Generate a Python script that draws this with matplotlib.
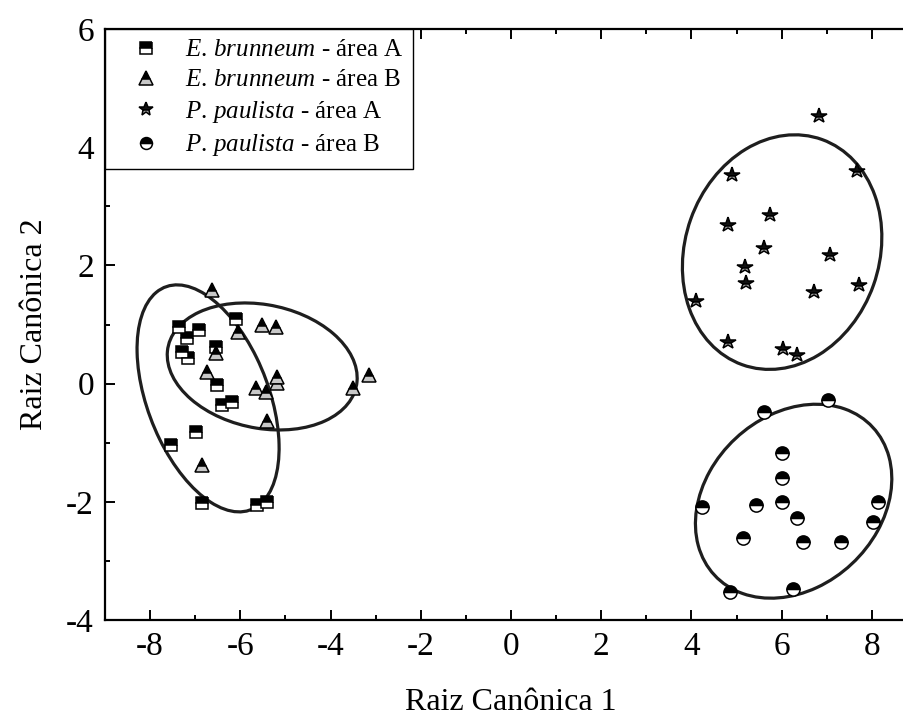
import matplotlib
matplotlib.use("Agg")
import matplotlib.pyplot as plt
from matplotlib.patches import Ellipse
from matplotlib.ticker import MultipleLocator

plt.rcParams['font.family'] = ['Liberation Serif', 'DejaVu Serif']
plt.rcParams['mathtext.fontset'] = 'custom'
plt.rcParams['mathtext.rm'] = 'Liberation Serif'
plt.rcParams['mathtext.it'] = 'Liberation Serif:italic'
plt.rcParams['axes.unicode_minus'] = False

# ---- data ----
eb_a_x = [-7.36, -6.91, -7.18, -7.29, -7.16, -6.54, -6.51, -6.40, -6.18, -6.09, -6.98, -7.53, -6.85, -5.63, -5.41]
eb_a_y = [0.96, 0.91, 0.77, 0.53, 0.43, 0.62, -0.02, -0.36, -0.31, 1.09, -0.82, -1.04, -2.02, -2.05, -2.00]

eb_b_x = [-6.62, -6.06, -5.51, -5.21, -6.54, -6.75, -5.65, -5.43, -5.18, -5.18, -5.40, -6.84, -3.51, -3.14]
eb_b_y = [1.58, 0.88, 0.99, 0.96, 0.51, 0.20, -0.08, -0.14, 0.12, 0.01, -0.64, -1.38, -0.08, 0.15]

pp_a_x = [6.83, 4.89, 7.66, 5.74, 4.81, 5.60, 7.08, 5.18, 5.22, 6.71, 7.71, 4.11, 4.80, 6.02, 6.33]
pp_a_y = [4.52, 3.53, 3.59, 2.85, 2.68, 2.29, 2.18, 1.98, 1.70, 1.55, 1.67, 1.39, 0.71, 0.58, 0.48]

pp_b_x = [7.03, 5.60, 6.00, 6.00, 6.00, 5.44, 4.24, 8.14, 8.03, 6.33, 5.14, 6.48, 7.31, 4.85, 6.25]
pp_b_y = [-0.28, -0.48, -1.18, -1.60, -2.00, -2.05, -2.08, -2.00, -2.34, -2.28, -2.62, -2.68, -2.68, -3.52, -3.48]

labels = [r"$\mathit{E.\,brunneum}$ - área A",
          r"$\mathit{E.\,brunneum}$ - área B",
          r"$\mathit{P.\,paulista}$ - área A",
          r"$\mathit{P.\,paulista}$ - área B"]

# confidence ellipses: center x, center y, semi-major, semi-minor, angle (deg)
ell_cx = [-6.715, -5.515, 6.01, 6.265]
ell_cy = [-0.25, 0.29, 2.225, -1.99]
ell_a = [2.13, 2.117, 2.268, 2.243]
ell_b = [1.277, 1.051, 1.919, 1.549]
ell_ang = [122.7, -7.0, 24.8, 19.5]

x_label = "Raiz Canônica 1"
y_label = "Raiz Canônica 2"

# ---- figure ----
fig = plt.figure(figsize=(9.04, 7.28), dpi=100)
ax = fig.add_axes([105/904, 108/728, 812/904, 591/728])

styles = [
    dict(marker='s', markersize=9, fillstyle='top', markerfacecolor='black', markerfacecoloralt='white'),
    dict(marker='^', markersize=10.5, fillstyle='top', markerfacecolor='black', markerfacecoloralt='#c8c8c8'),
    dict(marker='*', markersize=11.5, fillstyle='top', markerfacecolor='#111111', markerfacecoloralt='#a0a0a0'),
    dict(marker='o', markersize=9.5, fillstyle='top', markerfacecolor='black', markerfacecoloralt='white'),
]
series = [(eb_a_x, eb_a_y), (eb_b_x, eb_b_y), (pp_a_x, pp_a_y), (pp_b_x, pp_b_y)]

for i in range(4):
    e = Ellipse((ell_cx[i], ell_cy[i]), 2 * ell_a[i], 2 * ell_b[i], angle=ell_ang[i],
                fill=False, edgecolor='#1e1e1e', linewidth=2.3, zorder=2)
    ax.add_patch(e)

handles = []
for (xs, ys), st, lab in zip(series, styles, labels):
    h, = ax.plot(xs, ys, linestyle='none', markeredgecolor='black', markeredgewidth=1.1,
                 zorder=3, label=lab, **st)
    handles.append(h)

ax.set_xlim(-9, 9)
ax.set_ylim(-4, 6)
ax.set_xticks([-8, -6, -4, -2, 0, 2, 4, 6, 8])
ax.set_yticks([-4, -2, 0, 2, 4, 6])
ax.xaxis.set_minor_locator(MultipleLocator(1))
ax.yaxis.set_minor_locator(MultipleLocator(1))
ax.tick_params(which='both', direction='in', top=True, right=True, width=1.4)
ax.tick_params(which='major', length=7, labelsize=24, pad=8)
ax.tick_params(which='minor', length=3.5)
for s in ax.spines.values():
    s.set_linewidth(1.6)

ax.set_xlabel(x_label, fontsize=23, labelpad=19)
ax.set_ylabel(y_label, fontsize=23, labelpad=12)

leg = ax.legend(handles=handles, loc='upper left', bbox_to_anchor=(0, 1), borderaxespad=0,
                prop={'size': 18}, frameon=True, fancybox=False, framealpha=1, edgecolor='black',
                handletextpad=0.3, handlelength=2.5, borderpad=0.4, labelspacing=0.3,
                markerscale=0.9)
leg.get_frame().set_linewidth(1.0)

fig.savefig("out.png", dpi=100)
